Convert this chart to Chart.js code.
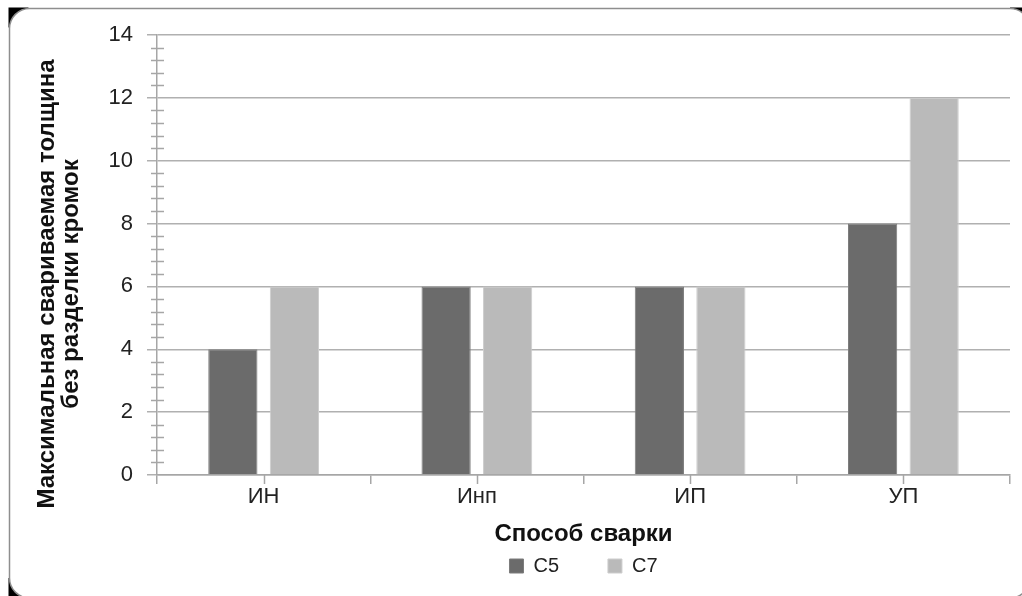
<!DOCTYPE html>
<html>
<head>
<meta charset="utf-8">
<script src="https://cdn.jsdelivr.net/npm/chart.js@4.4.0/dist/chart.umd.min.js"></script>
<style>
html, body { margin: 0; padding: 0; background: #fff; }
</style>
</head>
<body>
<canvas id="weldChart" width="1022" height="596"></canvas>
<script>
// data
const categories = ['ИН', 'Инп', 'ИП', 'УП'];
const seriesNames = ['С5', 'С7'];
const c5Values = [4, 6, 6, 8];
const c7Values = [6, 6, 6, 12];
const yMin = 0;
const yMax = 14;
const yMajorStep = 2;
const yMinorStep = 0.4;
const xTitle = 'Способ сварки';
const yTitleLines = ['Максимальная свариваемая толщина', 'без разделки кромок'];

const family = '"Liberation Sans", Arial, sans-serif';
const axisColor = '#a6a6a6';
const gridColor = '#b0b0b0';
const textColor = '#222';


// rounded frame round the whole chart
const frame = {
    id: 'frame',
    beforeDraw(chart){
        const ctx = chart.ctx;
        const r = 20, x = 9.5, y = 8.5, w = 1030 - x, h = 598 - y;
        ctx.save();
        ctx.fillStyle = '#fff';
        ctx.fillRect(0, 0, chart.width, chart.height);
        ctx.fillStyle = '#000';
        ctx.fillRect(x - 1, y - 1, r, r);
        ctx.fillRect(x + w - r, y - 1, r, r);
        ctx.fillRect(x - 1, y + h - r, r, r);
        ctx.beginPath();
        ctx.moveTo(x + r, y);
        ctx.arcTo(x + w, y, x + w, y + h, r);
        ctx.arcTo(x + w, y + h, x, y + h, r);
        ctx.arcTo(x, y + h, x, y, r);
        ctx.arcTo(x, y, x + w, y, r);
        ctx.closePath();
        ctx.fillStyle = '#fff';
        ctx.fill();
        ctx.strokeStyle = '#8e8e8e';
        ctx.lineWidth = 1.5;
        ctx.stroke();
        ctx.restore();
    }
};


// minor ticks on y, centre ticks on x
const extraTicks = {
    id: 'extraTicks',
    afterDraw(chart){
        const {ctx, chartArea, scales} = chart;
        const every = Math.round(yMajorStep / yMinorStep);
        ctx.save();
        ctx.strokeStyle = axisColor;
        ctx.lineWidth = 1.5;
        ctx.beginPath();
        for (let i = 1; i * yMinorStep < yMax; i++) {
            if (i % every === 0) continue;
            const py = Math.round(scales.y.getPixelForValue(i * yMinorStep)) + 0.5;
            ctx.moveTo(chartArea.left - 6, py);
            ctx.lineTo(chartArea.left + 7, py);
        }
        categories.forEach((c, i) => {
            const px = Math.round(scales.x.getPixelForValue(i)) + 0.5;
            ctx.moveTo(px, chartArea.bottom);
            ctx.lineTo(px, chartArea.bottom + 9);
        });
        ctx.stroke();
        ctx.restore();
    }
};


// two line rotated y title
const yTitle = {
    id: 'yTitle',
    afterDraw(chart){
        const ctx = chart.ctx;
        const cy = 284;
        const xs = [47.5, 71.5];
        ctx.save();
        ctx.font = 'bold 24px ' + family;
        ctx.fillStyle = '#111';
        ctx.textAlign = 'center';
        ctx.textBaseline = 'middle';
        yTitleLines.forEach((line, i) => {
            ctx.save();
            ctx.translate(xs[i], cy);
            ctx.rotate(-Math.PI / 2);
            ctx.fillText(line, 0, 0);
            ctx.restore();
        });
        ctx.restore();
    }
};


new Chart(
document.getElementById('weldChart'),
{
    type: 'bar',
    data: {
        labels: categories,
        datasets: [
            {
                label: seriesNames[0],
                data: c5Values,
                backgroundColor: '#6b6b6b',
                borderColor: '#7d7d7d',
                borderWidth: 1
            },
            {
                label: seriesNames[1],
                data: c7Values,
                backgroundColor: '#bababa',
                borderColor: '#cdcdcd',
                borderWidth: 1
            }
        ]
    },
    options: {
        responsive: false,
        animation: false,
        devicePixelRatio: 1,
        layout: {
            padding: {left: 28, right: 12, top: 35, bottom: 10}
        },
        datasets: {
            bar: {barPercentage: 0.8, categoryPercentage: 0.577}
        },
        scales: {
            x: {
                grid: {offset: true, drawOnChartArea: false, color: axisColor, lineWidth: 1.5, tickLength: 9},
                border: {color: axisColor, width: 1.5},
                ticks: {font: {family: family, size: 22}, color: textColor, padding: 0, maxRotation: 0},
                title: {
                    display: true,
                    text: xTitle,
                    font: {family: family, size: 24, weight: 'bold', lineHeight: 1},
                    color: '#111',
                    padding: {top: 0, bottom: 0}
                },
                afterFit(scale){ scale.height = 71; }
            },
            y: {
                min: yMin,
                max: yMax,
                ticks: {stepSize: yMajorStep, font: {family: family, size: 22}, color: textColor, padding: 14},
                grid: {color: gridColor, lineWidth: 1.5, tickLength: 10},
                border: {color: axisColor, width: 1.5},
                afterFit(scale){ scale.width = 129; }
            }
        },
        plugins: {
            legend: {
                position: 'bottom',
                fullSize: false,
                labels: {
                    boxWidth: 14,
                    boxHeight: 14,
                    padding: 10,
                    color: textColor,
                    font: {family: family, size: 20},
                    generateLabels(chart){
                        const items = Chart.defaults.plugins.legend.labels.generateLabels(chart);
                        items[0].text += '\u00A0'.repeat(7);
                        return items;
                    }
                }
            },
            tooltip: {enabled: false}
        }
    },
    plugins: [frame, extraTicks, yTitle]
});
</script>
</body>
</html>
